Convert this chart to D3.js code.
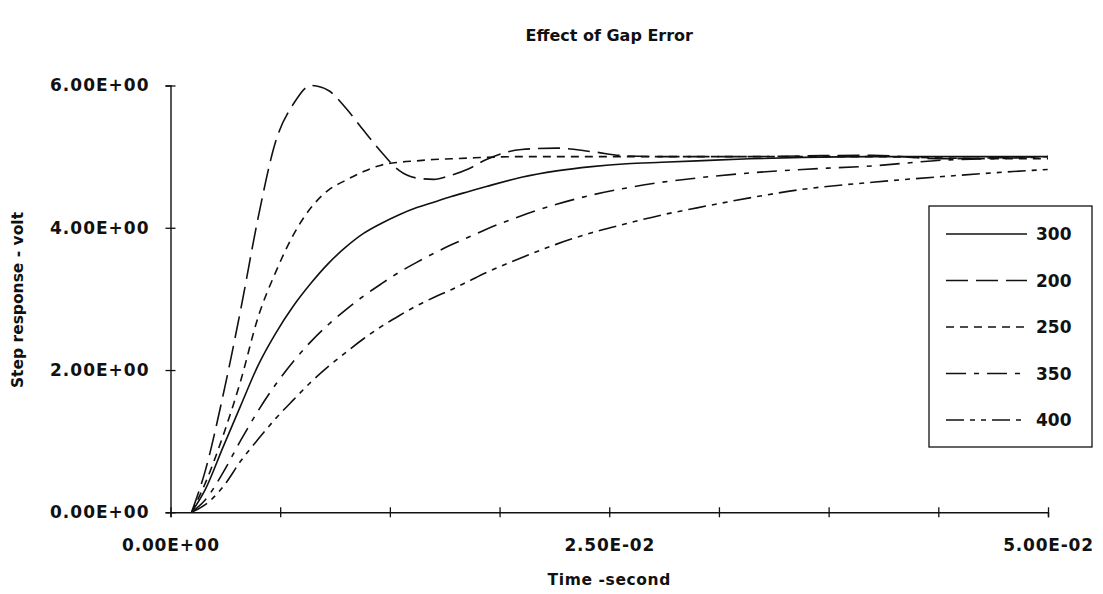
<!DOCTYPE html>
<html>
<head>
<meta charset="utf-8">
<script src="https://cdn.jsdelivr.net/npm/d3@7"></script>
<style>
  html, body { margin: 0; padding: 0; background: #fff; }
  svg { display: block; }
  text { font-family: "DejaVu Sans", "Liberation Sans", sans-serif; font-weight: bold; fill: #111; }
</style>
</head>
<body>
<svg id="chart" width="1103" height="594"></svg>
<script>
// Sample times (s)
const time = [0.0012, 0.002, 0.003, 0.004, 0.005, 0.006, 0.007, 0.008, 0.009, 0.010,
              0.011, 0.012, 0.013, 0.014, 0.015, 0.016, 0.017, 0.018, 0.020, 0.022,
              0.024, 0.026, 0.028, 0.030, 0.033, 0.036, 0.040, 0.044, 0.048, 0.050];

// Step response (V) for each gap setting
const gap300 = [0, 0.33, 0.92, 1.50, 2.07, 2.52, 2.90, 3.22, 3.50, 3.73,
                3.92, 4.06, 4.18, 4.28, 4.36, 4.44, 4.51, 4.58, 4.71, 4.80,
                4.86, 4.90, 4.92, 4.94, 4.97, 4.99, 5.00, 5.00, 5.00, 5.00];
const gap200 = [0, 0.60, 1.65, 2.85, 4.15, 5.22, 5.74, 6.00, 5.93, 5.68,
                5.37, 5.07, 4.81, 4.70, 4.68, 4.74, 4.83, 4.96, 5.10, 5.12,
                5.07, 5.01, 5.00, 5.00, 5.00, 5.01, 5.02, 4.97, 4.99, 5.00];
const gap250 = [0, 0.42, 1.08, 1.85, 2.75, 3.38, 3.90, 4.28, 4.53, 4.67,
                4.79, 4.88, 4.92, 4.94, 4.96, 4.97, 4.98, 4.99, 5.00, 5.00,
                5.00, 5.00, 5.00, 5.00, 5.00, 5.00, 5.00, 4.98, 4.97, 4.97];
const gap350 = [0, 0.18, 0.56, 1.01, 1.43, 1.80, 2.12, 2.40, 2.64, 2.85,
                3.04, 3.21, 3.37, 3.51, 3.64, 3.76, 3.87, 3.98, 4.17, 4.33,
                4.46, 4.56, 4.64, 4.70, 4.77, 4.82, 4.87, 4.95, 4.98, 5.00];
const gap400 = [0, 0.11, 0.36, 0.72, 1.03, 1.32, 1.58, 1.83, 2.05, 2.25,
                2.44, 2.61, 2.76, 2.90, 3.02, 3.13, 3.25, 3.37, 3.58, 3.77,
                3.93, 4.06, 4.18, 4.28, 4.42, 4.54, 4.64, 4.72, 4.79, 4.82];

const seriesNames = ["300", "200", "250", "350", "400"];
const seriesValues = [gap300, gap200, gap250, gap350, gap400];
const dashStyles = ["none", "22,8", "8,6", "20,8,5,8", "18,6,5,6,5,6"];

const yTicks = [0, 2, 4, 6];
const xTickStep = 0.00625;
const xLabelStep = 0.025;

const titleText = "Effect of Gap Error";
const xTitle = "Time -second";
const yTitle = "Step response - volt";

// Layout
const svg = d3.select("#chart");
const plotLeft = 170.5, plotRight = 1048, plotTop = 85.5, plotBottom = 512.3;

const x = d3.scaleLinear().domain([0, 0.05]).range([plotLeft, plotRight]);
const y = d3.scaleLinear().domain([0, 6]).range([plotBottom, plotTop]);

// Scientific notation like 6.00E+00
function sci(v) {
  const [m, e] = v.toExponential(2).split("e");
  const n = +e;
  return m + "E" + (n < 0 ? "-" : "+") + String(Math.abs(n)).padStart(2, "0");
}

const ink = "#111";

// Y axis
const yAxis = svg.append("g")
  .attr("transform", `translate(${plotLeft},0)`)
  .call(d3.axisLeft(y).tickValues(yTicks).tickSizeOuter(0).tickSize(5).tickPadding(16).tickFormat(sci));
yAxis.select(".domain").attr("stroke", ink).attr("stroke-width", 1.4);
yAxis.selectAll(".tick line").attr("x1", 5).attr("x2", -5).attr("stroke", ink).attr("stroke-width", 1.3);
yAxis.selectAll(".tick text")
  .style("font-size", "17px").style("letter-spacing", "1px")
  .attr("font-family", null).attr("fill", ink);

// X axis
const xTickVals = d3.range(0, 0.05 + 1e-9, xTickStep);
const xAxis = svg.append("g")
  .attr("transform", `translate(0,${plotBottom})`)
  .call(d3.axisBottom(x).tickValues(xTickVals).tickSizeOuter(0).tickSize(5).tickPadding(22)
    .tickFormat(d => Math.abs(d / xLabelStep - Math.round(d / xLabelStep)) < 1e-6 ? sci(d) : ""));
xAxis.select(".domain").attr("stroke", ink).attr("stroke-width", 1.4);
xAxis.selectAll(".tick line").attr("y1", -5).attr("y2", 5).attr("stroke", ink).attr("stroke-width", 1.3);
xAxis.selectAll(".tick text")
  .style("font-size", "17px").style("letter-spacing", "0.8px")
  .attr("font-family", null).attr("fill", ink);

// Curves
const line = d3.line()
  .x((d, i) => x(time[i]))
  .y(d => y(d))
  .curve(d3.curveMonotoneX);

svg.append("g").selectAll("path")
  .data(seriesValues)
  .join("path")
  .attr("d", line)
  .attr("fill", "none")
  .attr("stroke", ink)
  .attr("stroke-width", 1.6)
  .attr("stroke-dasharray", (d, i) => dashStyles[i]);

// Titles
svg.append("text")
  .attr("x", (plotLeft + plotRight) / 2).attr("y", 41)
  .attr("text-anchor", "middle")
  .style("font-size", "16px")
  .text(titleText);

svg.append("text")
  .attr("x", (plotLeft + plotRight) / 2).attr("y", 585)
  .attr("text-anchor", "middle")
  .style("font-size", "15.5px").style("letter-spacing", "0.6px")
  .text(xTitle);

svg.append("text")
  .attr("transform", `translate(23,300) rotate(-90)`)
  .attr("text-anchor", "middle")
  .style("font-size", "15.5px")
  .text(yTitle);

// Legend
const legend = svg.append("g");
legend.append("rect")
  .attr("x", 929).attr("y", 206).attr("width", 163).attr("height", 241)
  .attr("fill", "#fff").attr("stroke", ink).attr("stroke-width", 1.3);

const rowY = d3.scalePoint().domain(seriesNames).range([234, 420]);
const rows = legend.selectAll("g.row")
  .data(seriesNames)
  .join("g")
  .attr("class", "row")
  .attr("transform", d => `translate(0,${rowY(d)})`);
rows.append("line")
  .attr("x1", 946).attr("x2", 1027).attr("y1", 0).attr("y2", 0)
  .attr("stroke", ink).attr("stroke-width", 1.5)
  .attr("stroke-dasharray", (d, i) => dashStyles[i]);
rows.append("text")
  .attr("x", 1036).attr("y", 0).attr("dy", "0.36em")
  .style("font-size", "17px")
  .text(d => d);
</script>
</body>
</html>
